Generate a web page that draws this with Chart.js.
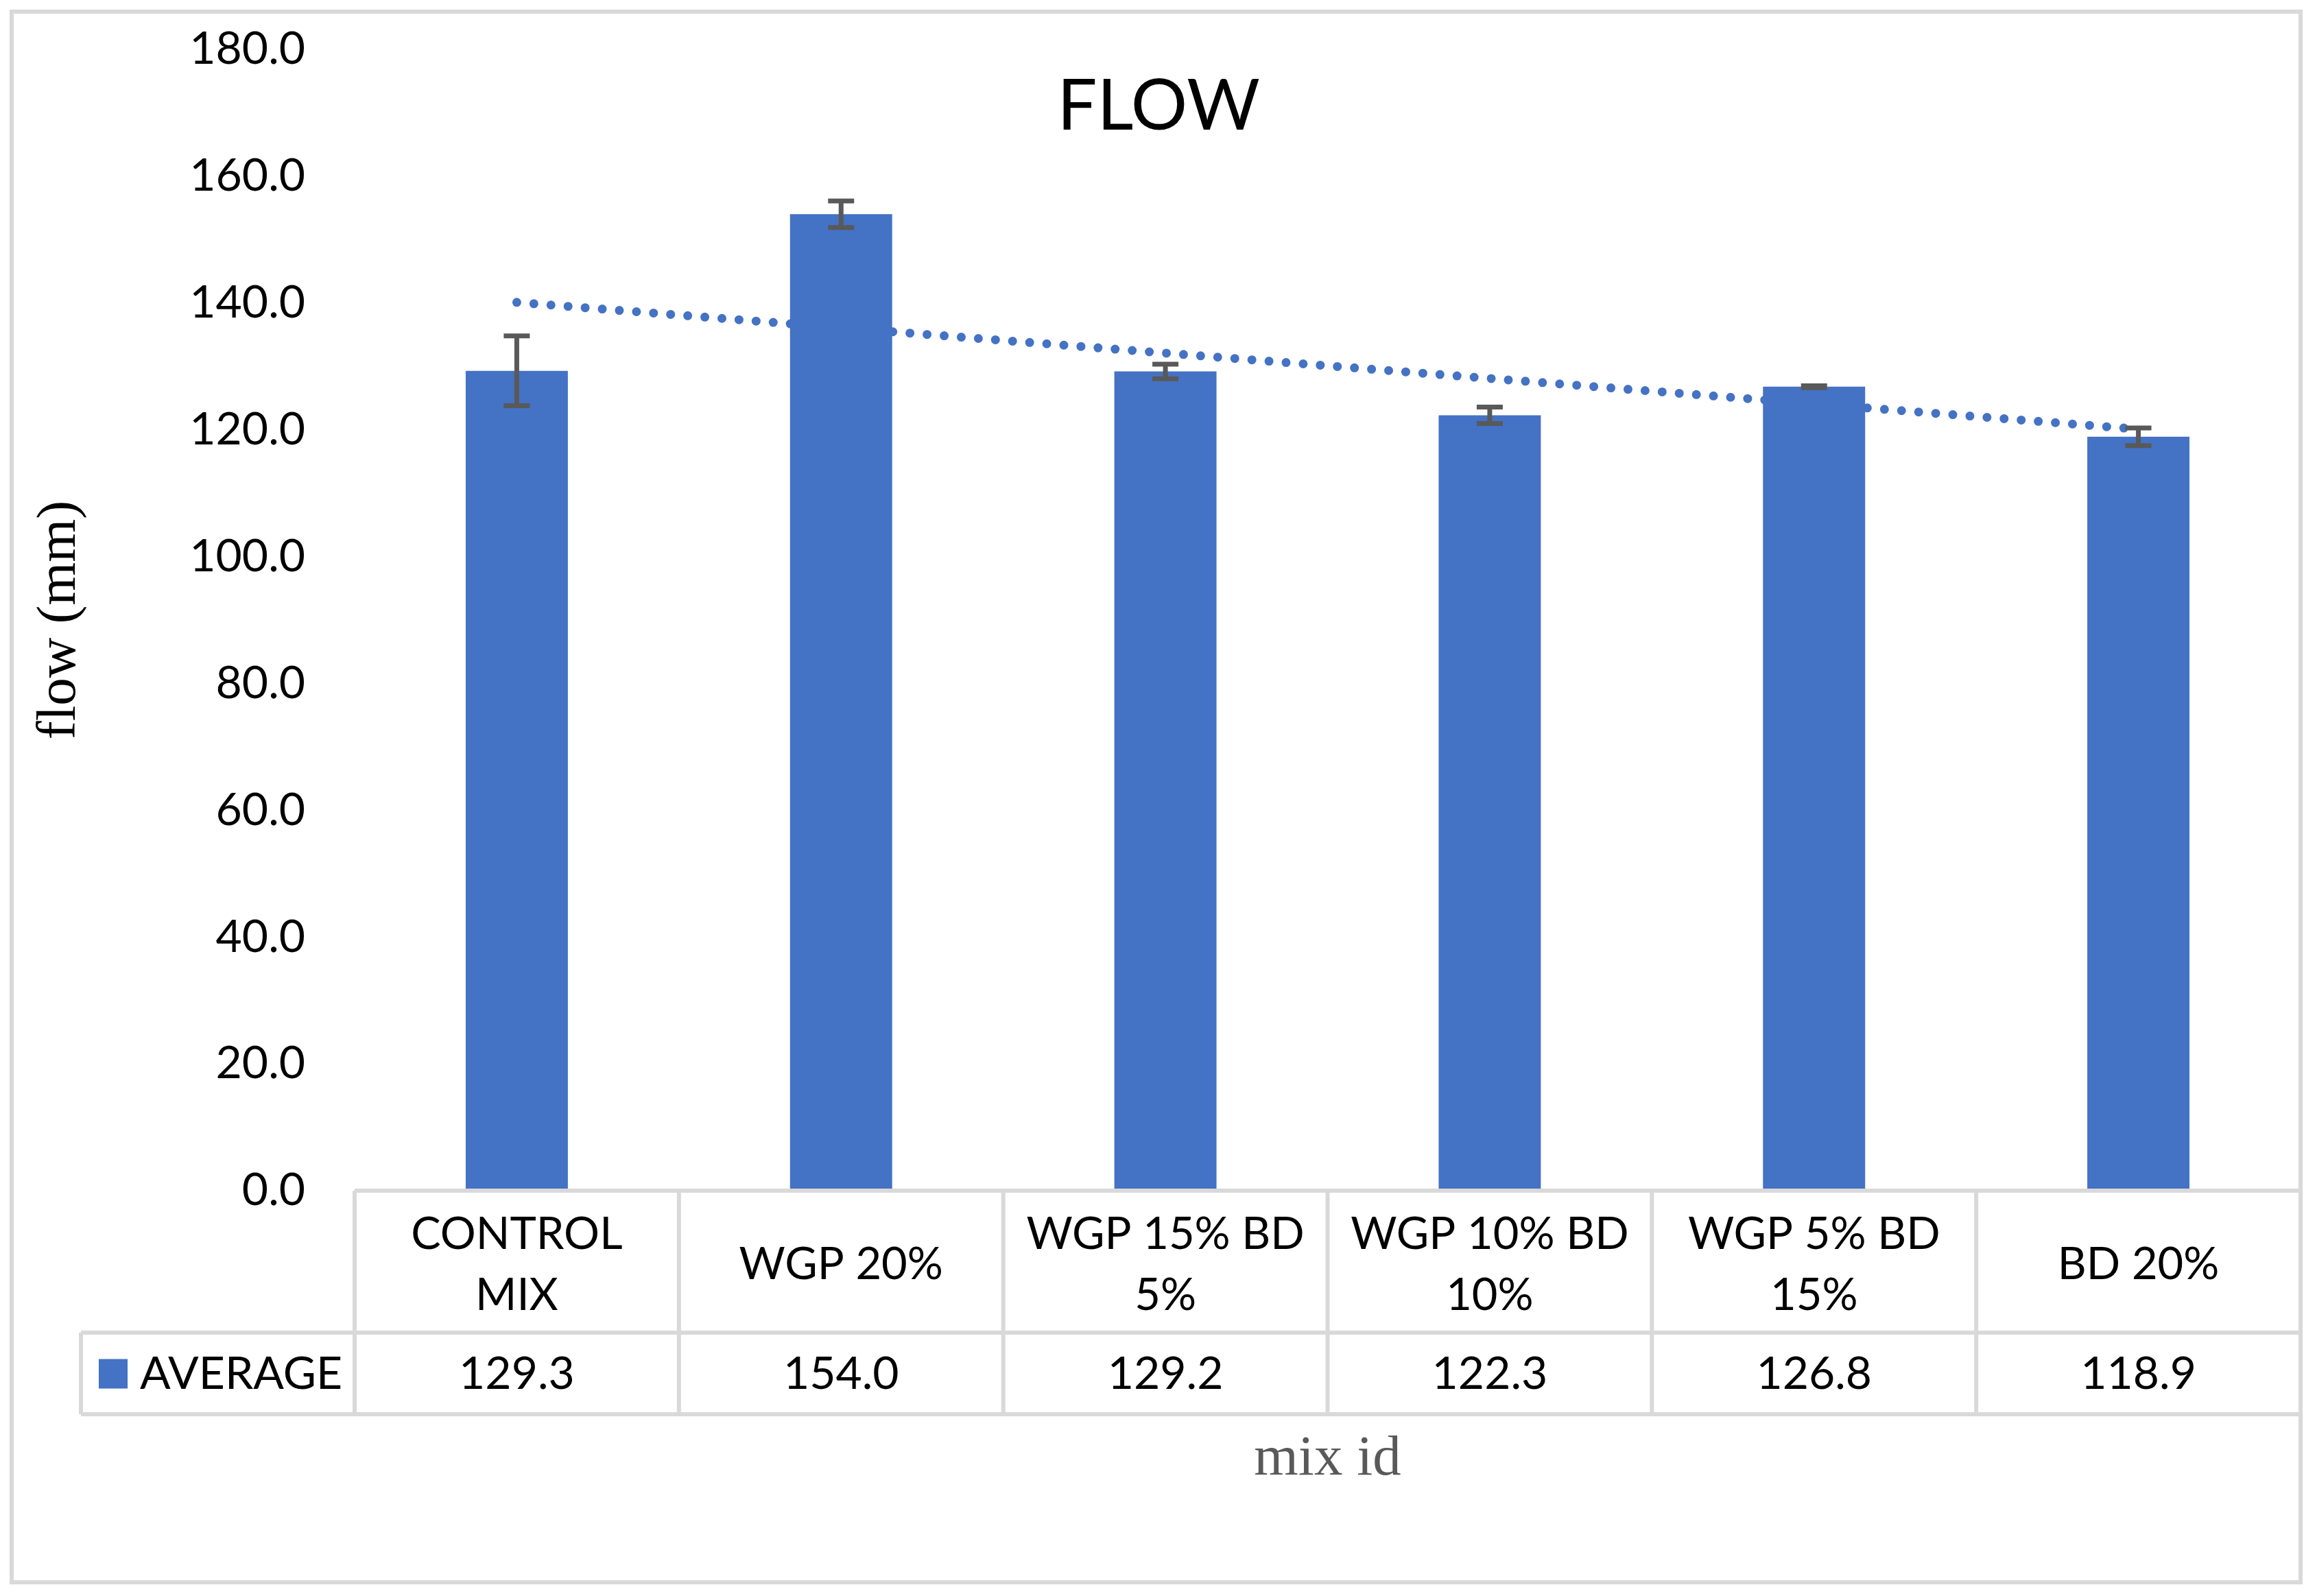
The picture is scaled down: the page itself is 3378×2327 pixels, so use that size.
<!DOCTYPE html>
<html>
<head>
<meta charset="utf-8">
<title>FLOW</title>
<script src="https://cdn.jsdelivr.net/npm/chart.js@4.4.1/dist/chart.umd.min.js"></script>
<style>
  html, body { margin: 0; padding: 0; background: #fff; }
  canvas { display: block; }
</style>
</head>
<body>
<canvas id="flowChart" width="3378" height="2327"></canvas>

<script>
// data
const mixIds = [['CONTROL', 'MIX'], ['WGP 20%'], ['WGP 15% BD', '5%'], ['WGP 10% BD', '10%'], ['WGP 5% BD', '15%'], ['BD 20%']];
const averages = [129.3, 154.0, 129.2, 122.3, 126.8, 118.9];
const errors = [5.5, 2.1, 1.15, 1.3, 0.15, 1.4];
const trend = [140.1, 136.1, 132.1, 128.1, 124.1, 120.1];
const yMin = 0, yMax = 180, yStep = 20;

const BLUE = '#4472C4';
const LINE = '#D9D9D9';
const SANS = 'Lato';
const SERIF = 'Liberation Serif';

// white page, outer frame, title, data table under the axis
const framePlugin = {
  id: 'frame',
  beforeDraw(chart) {
    const ctx = chart.ctx;
    ctx.save();
    ctx.fillStyle = '#fff';
    ctx.fillRect(0, 0, chart.width, chart.height);
    ctx.restore();
  },
  afterDraw(chart) {
    const ctx = chart.ctx;
    const xs = chart.scales.x;
    const area = chart.chartArea;
    const half = (xs.getPixelForValue(1) - xs.getPixelForValue(0)) / 2;
    const rowTop = area.bottom;
    const rowMid = area.bottom + 207;
    const rowBot = area.bottom + 326;
    const legendLeft = 118;

    ctx.save();
    ctx.strokeStyle = LINE;
    ctx.lineWidth = 6;
    ctx.beginPath();
    ctx.moveTo(area.left, rowTop); ctx.lineTo(area.right, rowTop);
    ctx.moveTo(legendLeft, rowMid); ctx.lineTo(area.right, rowMid);
    ctx.moveTo(legendLeft, rowBot); ctx.lineTo(area.right, rowBot);
    ctx.moveTo(legendLeft, rowMid); ctx.lineTo(legendLeft, rowBot);
    for (let i = 0; i < mixIds.length; i++) {
      const edge = xs.getPixelForValue(i) - half;
      ctx.moveTo(edge, rowTop); ctx.lineTo(edge, rowBot);
    }
    ctx.moveTo(area.right, rowTop); ctx.lineTo(area.right, rowBot);
    ctx.stroke();

    // outer chart border
    ctx.strokeRect(17, 17, 3337, 2290);

    // values row
    const rowY = (rowMid + rowBot) / 2 + 1;
    ctx.fillStyle = '#000';
    ctx.font = '66px ' + SANS;
    ctx.textAlign = 'center';
    ctx.textBaseline = 'middle';
    averages.forEach((v, i) => {
      ctx.fillText(v.toFixed(1), xs.getPixelForValue(i), rowY);
    });

    // legend key
    ctx.fillStyle = BLUE;
    ctx.fillRect(144, rowY - 22, 42, 43);
    ctx.fillStyle = '#000';
    ctx.textAlign = 'left';
    ctx.fillText('AVERAGE', 204, rowY);

    // title
    ctx.font = '103px ' + SANS;
    ctx.textAlign = 'center';
    ctx.textBaseline = 'alphabetic';
    ctx.fillText('FLOW', chart.width / 2, 189);
    ctx.restore();
  }
};

// standard deviation whiskers
const errorBarPlugin = {
  id: 'errorBars',
  afterDatasetsDraw(chart) {
    const ctx = chart.ctx;
    const xs = chart.scales.x, ys = chart.scales.y;
    ctx.save();
    ctx.strokeStyle = '#595959';
    ctx.lineWidth = 7;
    ctx.lineCap = 'butt';
    averages.forEach((v, i) => {
      const x = xs.getPixelForValue(i);
      const hi = ys.getPixelForValue(v + errors[i]);
      const lo = ys.getPixelForValue(v - errors[i]);
      ctx.beginPath();
      ctx.moveTo(x, hi); ctx.lineTo(x, lo);
      ctx.moveTo(x - 19, hi); ctx.lineTo(x + 19, hi);
      ctx.moveTo(x - 19, lo); ctx.lineTo(x + 19, lo);
      ctx.stroke();
    });
    ctx.restore();
  }
};

function build() {
  new Chart(document.getElementById('flowChart'), {
    type: 'bar',
    data: {
      labels: mixIds,
      datasets: [
        {
          type: 'line',
          label: 'Linear (AVERAGE)',
          data: trend,
          borderColor: BLUE,
          borderWidth: 13,
          borderDash: [0, 25],
          borderCapStyle: 'round',
          pointRadius: 0,
          fill: false,
          order: 0
        },
        {
          label: 'AVERAGE',
          data: averages,
          backgroundColor: BLUE,
          barPercentage: 0.315,
          categoryPercentage: 1,
          order: 1
        }
      ]
    },
    options: {
      responsive: false,
      devicePixelRatio: 1,
      animation: false,
      layout: { padding: { left: 0, right: 24, top: 72, bottom: 0 } },
      plugins: {
        legend: { display: false },
        title: { display: false },
        tooltip: { enabled: false }
      },
      scales: {
        x: {
          grid: { display: false },
          border: { display: false },
          ticks: {
            color: '#000',
            font: { family: SANS, size: 65, lineHeight: 1.37 },
            padding: 56,
            crossAlign: 'center',
            maxRotation: 0,
            autoSkip: false
          },
          title: {
            display: true,
            text: 'mix id',
            color: '#595959',
            font: { family: SERIF, size: 83, lineHeight: 1.2 },
            padding: { top: 0, bottom: 149 }
          },
          afterFit(s) { s.height = 591; }
        },
        y: {
          min: yMin,
          max: yMax,
          grid: { display: false },
          border: { display: false },
          ticks: {
            stepSize: yStep,
            color: '#000',
            padding: 64,
            font: { family: SANS, size: 66 },
            callback: v => Number(v).toFixed(1)
          },
          title: {
            display: true,
            text: 'flow (mm)',
            color: '#000',
            font: { family: SERIF, size: 81, lineHeight: 1.2 },
            padding: { top: 39, bottom: 0 }
          },
          afterFit(s) {
            s.width = 517;
            // tick padding should not push the plot top down
            s.paddingTop = 0;
            s.paddingBottom = 0;
          }
        }
      }
    },
    plugins: [framePlugin, errorBarPlugin]
  });
}

Promise.all([
  document.fonts.load('66px ' + SANS),
  document.fonts.load('81px "' + SERIF + '"')
]).then(build, build);
</script>
</body>
</html>
